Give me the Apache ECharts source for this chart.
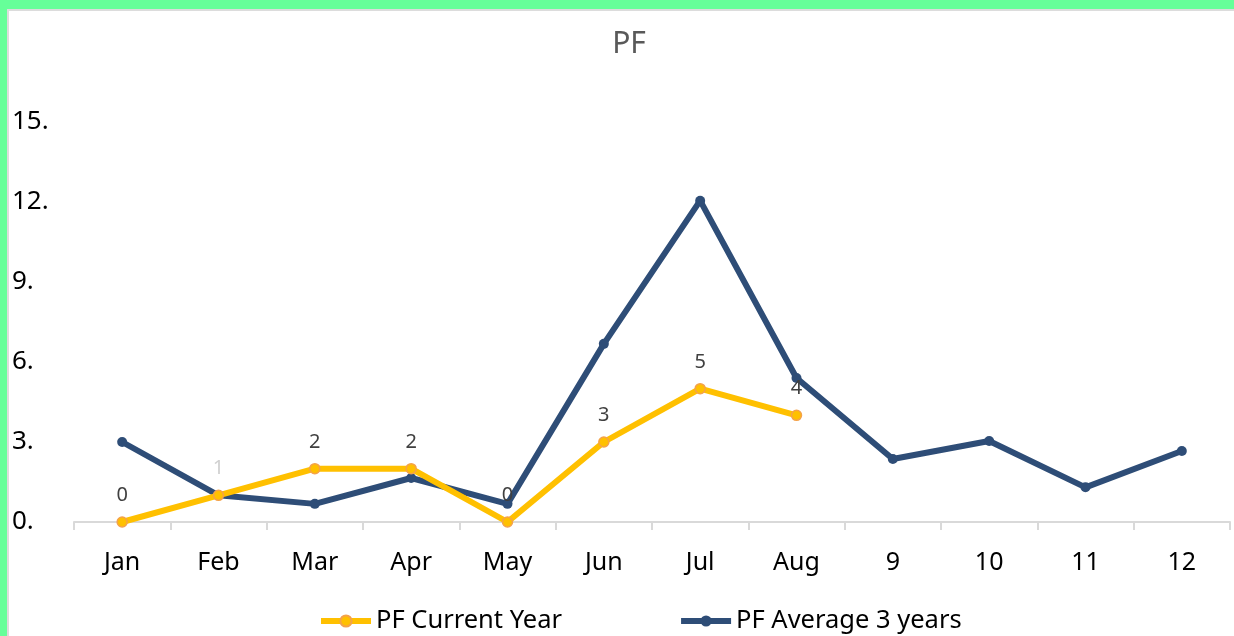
<!DOCTYPE html>
<html>
<head>
<meta charset="utf-8">
<script src="https://cdn.jsdelivr.net/npm/echarts@6/dist/echarts.min.js"></script>
<style>
  body { margin: 0; background: #fff; }
  #chart_box { position: absolute; left: 0; top: 0; width: 1234px; height: 636px; }
  .bd { position: absolute; pointer-events: none; }
</style>
</head>
<body>
<div id="chart_box"></div>
<div class="bd" style="left:0;top:0;width:1234px;height:9px;background:#66ff99"></div>
<div class="bd" style="left:0;top:0;width:7px;height:636px;background:#66ff99"></div>
<div class="bd" style="left:7px;top:9px;width:1227px;height:2px;background:#dcdcdc"></div>
<div class="bd" style="left:7px;top:9px;width:2px;height:627px;background:#dcdcdc"></div>
<script>
// 数据
var months = ['Jan', 'Feb', 'Mar', 'Apr', 'May', 'Jun', 'Jul', 'Aug', '9', '10', '11', '12'];
var currentYear = [0, 1, 2, 2, 0, 3, 5, 4];
var avg3Years = [3.0, 1.0, 0.68, 1.65, 0.68, 6.68, 12.05, 5.4, 2.36, 3.04, 1.3, 2.66];
var yTicks = [0, 3, 6, 9, 12, 15];

var myChart1 = echarts.init(document.getElementById('chart_box'));
var ff = 'Noto Sans';

// Feb 的标签颜色很浅
var curData = currentYear.map(function (v, i) {
    if (i == 1) {
        return { value: v, label: { color: '#d0d0d0' } };
    }
    return v;
});

var option = {
    animation: false,
    textStyle: { fontFamily: ff },
    title: {
        text: 'PF',
        left: 624,
        textAlign: 'center',
        top: 24,
        textStyle: { color: '#595959', fontSize: 30, fontWeight: 'normal', fontFamily: ff }
    },
    legend: {
        top: 603,
        left: 313,
        itemGap: 116,
        itemWidth: 50,
        itemHeight: 14,
        lineStyle: { width: 6 },
        textStyle: { color: '#000', fontSize: 25.5, fontFamily: ff },
        data: ['PF Current Year', 'PF Average 3 years']
    },
    grid: { left: 74, right: 4, top: 122, bottom: 114 },
    xAxis: {
        type: 'category',
        data: months,
        boundaryGap: true,
        axisLine: { lineStyle: { color: '#d9d9d9', width: 2 } },
        axisTick: { show: true, length: 8, lineStyle: { color: '#d9d9d9', width: 2 } },
        axisLabel: { color: '#000', fontSize: 25, margin: 28, fontFamily: ff }
    },
    yAxis: {
        type: 'value',
        min: yTicks[0],
        max: yTicks[yTicks.length - 1],
        interval: 3,
        splitLine: { show: false },
        axisLine: { show: false },
        axisTick: { show: false },
        axisLabel: {
            color: '#000',
            fontSize: 26,
            align: 'left',
            margin: 62,
            fontFamily: ff,
            formatter: function (v) { return v + '.'; }
        }
    },
    series: [
        {
            name: 'PF Current Year',
            type: 'line',
            data: curData,
            symbol: 'circle',
            symbolSize: 10,
            z: 3,
            lineStyle: { color: '#ffc000', width: 6 },
            itemStyle: { color: '#ffc000', borderColor: '#f4a24a', borderWidth: 1.5 },
            label: {
                show: true,
                position: 'top',
                distance: 11,
                color: '#404040',
                fontSize: 20,
                fontFamily: ff
            }
        },
        {
            name: 'PF Average 3 years',
            type: 'line',
            data: avg3Years,
            symbol: 'circle',
            symbolSize: 10,
            z: 2,
            lineStyle: { color: '#2e4d77', width: 6 },
            itemStyle: { color: '#2e4d77' }
        }
    ]
};

myChart1.setOption(option);
</script>
</body>
</html>
